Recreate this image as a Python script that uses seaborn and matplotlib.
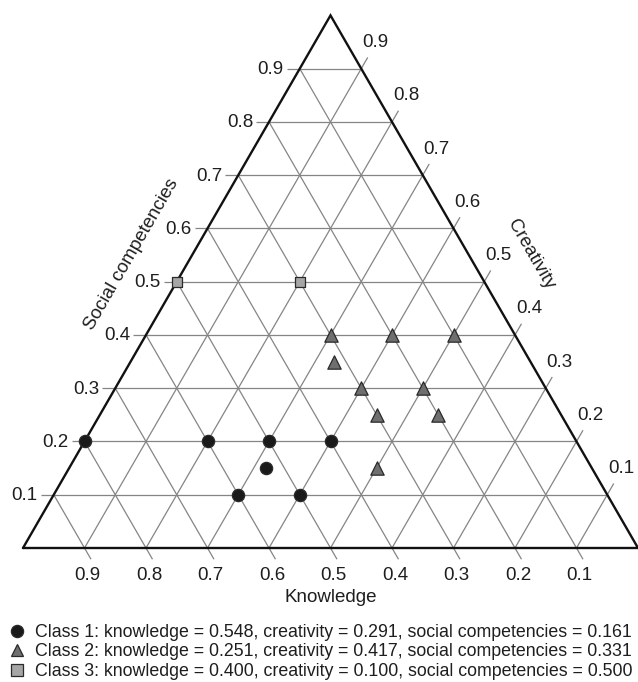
import matplotlib
matplotlib.use("Agg")
import matplotlib.pyplot as plt
from matplotlib.lines import Line2D
import numpy as np
import pandas as pd
import seaborn as sns

# compositions (knowledge, creativity, social competencies)
class1_knowledge = [0.8, 0.6, 0.5, 0.4, 0.6, 0.5, 0.53]
class1_creativity = [0.0, 0.2, 0.3, 0.4, 0.3, 0.4, 0.32]
class1_social = [0.2, 0.2, 0.2, 0.2, 0.1, 0.1, 0.15]

class2_knowledge = [0.3, 0.2, 0.1, 0.32, 0.3, 0.2, 0.3, 0.2, 0.35]
class2_creativity = [0.3, 0.4, 0.5, 0.33, 0.4, 0.5, 0.45, 0.55, 0.5]
class2_social = [0.4, 0.4, 0.4, 0.35, 0.3, 0.3, 0.25, 0.25, 0.15]

class3_knowledge = [0.5, 0.3]
class3_creativity = [0.0, 0.2]
class3_social = [0.5, 0.5]

# class means shown in the legend
class_names = ["Class 1", "Class 2", "Class 3"]
mean_knowledge = [0.548, 0.251, 0.400]
mean_creativity = [0.291, 0.417, 0.100]
mean_social = [0.161, 0.331, 0.500]

tick_values = [0.1, 0.2, 0.3, 0.4, 0.5, 0.6, 0.7, 0.8, 0.9]

H = np.sqrt(3) / 2
PX = 1 / 615  # one pixel in triangle units


def to_xy(creativity, social):
    # knowledge=1 bottom-left, creativity=1 bottom-right, social=1 top
    c = np.asarray(creativity, dtype=float)
    s = np.asarray(social, dtype=float)
    return c + s / 2, s * H


sns.set_theme(style="white")
plt.rcParams["font.family"] = ["Liberation Sans", "DejaVu Sans"]

fig = plt.figure(figsize=(6.38, 6.82), dpi=100)
ax = fig.add_axes([0, 0, 1, 1])
ax.set_xlim(-23 * PX, 615 * PX)
ax.set_ylim(-134 * PX, 548 * PX)
ax.axis("off")

grid_kw = dict(color="#858585", lw=0.9, zorder=1, solid_capstyle="butt")
for v in tick_values:
    # constant social (horizontal)
    ax.plot([v / 2, 1 - v / 2], [v * H, v * H], **grid_kw)
    # constant knowledge (parallel to right edge)
    ax.plot([1 - v, (1 - v) / 2], [0, (1 - v) * H], **grid_kw)
    # constant creativity (parallel to left edge)
    ax.plot([v, v + (1 - v) / 2], [0, (1 - v) * H], **grid_kw)

# triangle outline
ax.plot([0, 1, 0.5, 0], [0, 0, H, 0], color="#111111", lw=1.7, zorder=3,
        solid_joinstyle="miter")

tick_len = 13 * PX
fs = 13.5
txt_col = "#1e1e1e"
for v in tick_values:
    lbl = f"{v:.1f}"
    # left: social competencies
    x0, y0 = v / 2, v * H
    ax.plot([x0, x0 - tick_len], [y0, y0], **grid_kw)
    ax.annotate(lbl, (x0, y0), xytext=(-16, -1), textcoords="offset pixels",
                ha="right", va="center", fontsize=fs, color=txt_col)
    # bottom: knowledge
    x0, y0 = 1 - v, 0
    ax.plot([x0, x0 + 0.5 * tick_len], [y0, y0 - H * tick_len], **grid_kw)
    ax.annotate(lbl, (x0, y0), xytext=(3, -27), textcoords="offset pixels",
                ha="center", va="center", fontsize=fs, color=txt_col)
    # right: creativity
    x0, y0 = 1 - v / 2, v * H
    ax.plot([x0, x0 + 0.5 * tick_len], [y0, y0 + H * tick_len], **grid_kw)
    ax.annotate(lbl, (x0, y0), xytext=(14, 26), textcoords="offset pixels",
                ha="center", va="center", fontsize=fs, color=txt_col)

ax.text(0.5, -50 * PX, "Knowledge", ha="center", va="center", fontsize=fs,
        color=txt_col)
ax.text((132 - 23) * PX, (548 - 254) * PX, "Social competencies", rotation=60,
        ha="center", va="center", fontsize=fs, color=txt_col,
        rotation_mode="anchor")
ax.text((531 - 23) * PX, (548 - 254) * PX, "Creativity", rotation=-60,
        ha="center", va="center", fontsize=fs, color=txt_col,
        rotation_mode="anchor")

frames = []
for name, c, s in [("Class 1", class1_creativity, class1_social),
                   ("Class 2", class2_creativity, class2_social),
                   ("Class 3", class3_creativity, class3_social)]:
    x, y = to_xy(c, s)
    frames.append(pd.DataFrame({"x": x, "y": y, "cls": name}))
df = pd.concat(frames, ignore_index=True)

palette = {"Class 1": "#1a1a1a", "Class 2": "#6f6f6f", "Class 3": "#a6a6a6"}
markers = {"Class 1": "o", "Class 2": "^", "Class 3": "s"}
sizes = {"Class 1": 78, "Class 2": 92, "Class 3": 62}
for name in class_names:
    sub = df[df["cls"] == name]
    sns.scatterplot(data=sub, x="x", y="y", color=palette[name],
                    marker=markers[name], s=sizes[name], edgecolor="#2a2a2a",
                    linewidth=0.9, ax=ax, legend=False, zorder=5)

handles = []
labels = []
for i, name in enumerate(class_names):
    handles.append(Line2D([], [], ls="none", marker=markers[name],
                          markersize=8.8, markerfacecolor=palette[name],
                          markeredgecolor="#2a2a2a", markeredgewidth=0.9))
    labels.append(f"{name}: knowledge = {mean_knowledge[i]:.3f}, "
                  f"creativity = {mean_creativity[i]:.3f}, "
                  f"social competencies = {mean_social[i]:.3f}")
fig.legend(handles, labels, loc="upper left", bbox_to_anchor=(10 / 638, 1 - 624 / 682),
           frameon=False, fontsize=12.8, handlelength=0.8, handletextpad=0.6,
           labelspacing=0.14, borderpad=0, borderaxespad=0, labelcolor=txt_col)

fig.savefig("out.png", dpi=100)
